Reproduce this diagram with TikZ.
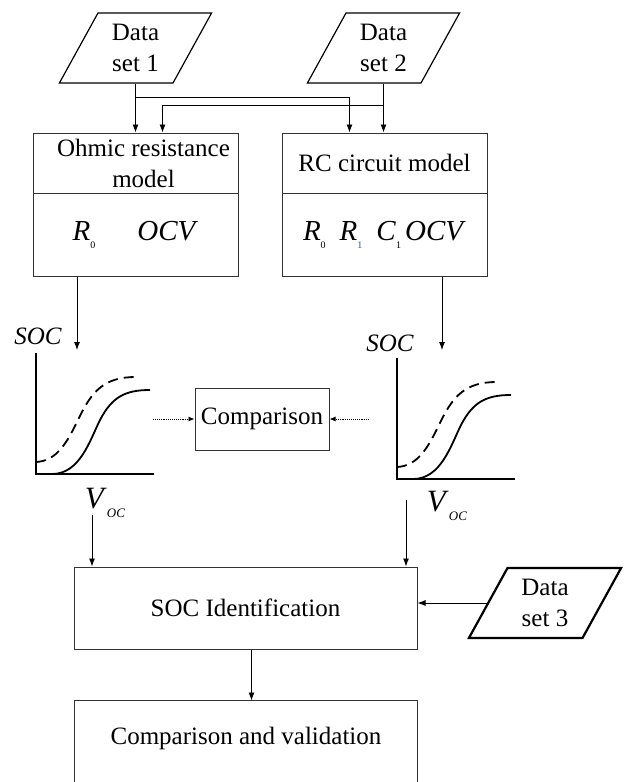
\documentclass[tikz,border=0pt]{standalone}
\usepackage{fontspec}
\setmainfont{Liberation Serif}
\usetikzlibrary{arrows.meta,shapes.geometric}
\definecolor{subblue}{RGB}{40,80,170}
\newcommand{\lo}[2][black]{\raisebox{-8pt}{\fontsize{10}{10}\selectfont\color{#1}#2}}
\newcommand{\mv}[1]{{\fontsize{29}{29}\selectfont\textit{#1}}}
\newcommand{\voc}{{\fontsize{31}{31}\selectfont\textit{V}}\raisebox{-9pt}{\fontsize{13}{13}\selectfont\textit{OC}}}

\tikzset{
  box/.style={draw=black!80, line width=1pt, minimum width=205pt, align=center, inner sep=0pt},
  data/.style={trapezium, trapezium left angle=63, trapezium right angle=117,
    trapezium stretches=true, draw, line width=1.2pt, minimum width=153pt,
    minimum height=70pt, align=center, inner sep=0pt},
  arr/.style={-{Latex[length=8pt,width=6pt]}, line width=0.9pt},
  cmp/.style={densely dotted, -{Latex[length=6pt,width=5pt]}, line width=0.9pt},
}

\begin{document}
\begin{tikzpicture}[x=1pt, y=-1pt, font=\fontsize{25}{31}\selectfont]
    \useasboundingbox (0,0) rectangle (625,782);
    \clip (0,0) rectangle (625,782);

    % inputs
    \node[data] (ds1) at (135.5,48) {Data\\set 1};
    \node[data] (ds2) at (383.5,48) {Data\\set 2};
    \node[data, line width=2.2pt] (ds3) at (545,603) {Data\\set 3};

    % models
    \node[box, minimum height=60pt] (ohm) at (135.5,163) {\hspace*{16pt}Ohmic resistance\\\hspace*{16pt}model};
    \node[box, minimum height=83pt] (ohmpar) at (135.5,234.5) {\mv{R}\lo{0}\hspace{42pt}\mv{OCV}};
    \node[box, minimum height=60pt] (rc) at (384.5,163) {RC circuit model};
    \node[box, minimum height=83pt] (rcpar) at (384.5,234.5)
        {\mv{R}\lo{0}\hspace{14pt}\mv{R}\lo[subblue]{1}\hspace{14pt}\mv{C}\lo{1}\,\mv{OCV}};

    \draw[arr] (ds1.south) -- (ds1.south |- ohm.north);
    \draw[arr] (ds1.south) ++(0,14) -| ([xshift=-35pt]rc.north);
    \draw[arr] (ds2.south) -- (ds2.south |- rc.north);
    \draw[arr] (ds2.south) ++(0,22) -| ([xshift=27pt]ohm.north);

    % SOC-OCV curves
    \foreach \gx/\gy in {0/0, 361/5} {
      \begin{scope}[shift={(\gx,\gy)}]
        \draw[line width=1.6pt] (36,353) -- (36,474) -- (154,474);
        \draw[line width=1.8pt] (36,474) -- (52,474) .. controls (80,474) and (90,440) .. (100,420)
          .. controls (112,397) and (125,390) .. (150,390);
        \draw[line width=1.8pt, dash pattern=on 10pt off 6pt] (36,462) .. controls (58,461) and (68,440) .. (78,420)
          .. controls (92,390) and (105,377) .. (136,377);
      \end{scope}
    }
    \node (socl) at (38,336) {\textit{SOC}};
    \node (socr) at (390,343) {\textit{SOC}};
    \node (vocl) at (105,503) {\voc};
    \node (vocr) at (447,506) {\voc};

    \coordinate (gl) at (77,350);
    \coordinate (gr) at (442,350);
    \draw[arr] (gl |- ohmpar.south) -- (gl);
    \draw[arr] (gr |- rcpar.south) -- (gr);

    \node[box, minimum width=134pt, minimum height=62pt] (comp) at (262,419) {Comparison};
    \coordinate (cl) at (153,419);
    \coordinate (cr) at (369,419);
    \draw[cmp] (cl) -- (comp.west);
    \draw[cmp] (cr) -- (comp.east);

    % identification
    \node[box, minimum width=343pt, minimum height=82pt] (sid) at (245.5,608) {SOC Identification};
    \coordinate (vl) at (92,515);
    \coordinate (vr) at (406,500);
    \draw[arr] (vl) -- (vl |- sid.north);
    \draw[arr] (vr) -- (vr |- sid.north);
    \draw[arr] (ds3.west) -- (sid.east |- ds3.west);

    \node[box, draw=none, minimum width=342pt, minimum height=74pt] (valid) at (246,738) {Comparison and validation};
    \coordinate (bot) at (0,800);
    \draw[black!80, line width=1pt] (valid.west |- bot) |- (valid.north) -| (valid.east |- bot);
    \draw[arr] ([xshift=6pt]sid.south) -- ([xshift=6pt]sid.south |- valid.north);
\end{tikzpicture}
\end{document}
